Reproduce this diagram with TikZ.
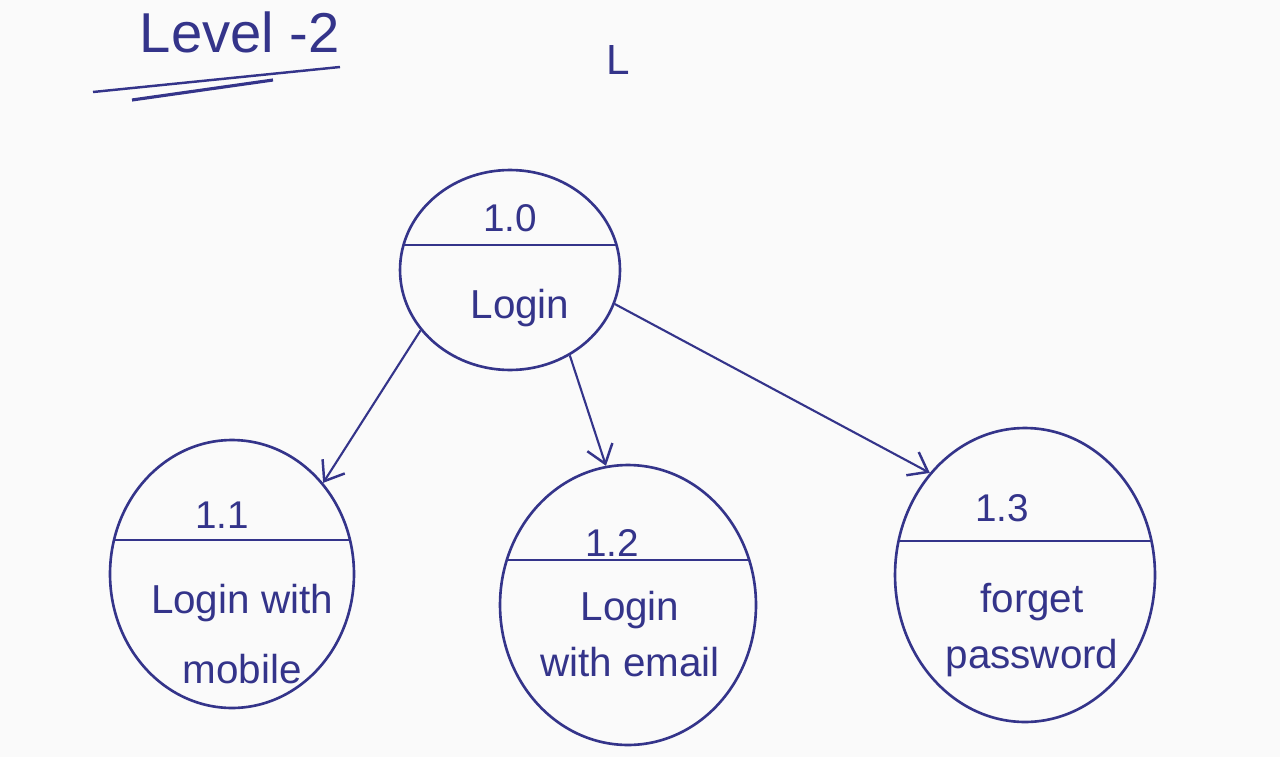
\documentclass[tikz,border=0pt]{standalone}
\usepackage{fontspec}
\setmainfont{Liberation Sans}
\usetikzlibrary{shapes.geometric,arrows.meta}
\definecolor{ink}{HTML}{34348A}
\definecolor{paper}{HTML}{FAFAFA}
\begin{document}
\begin{tikzpicture}[x=0.02cm,y=-0.02cm,
 proc/.style={ellipse,draw=ink,line width=1.5pt,inner sep=0pt},
 divider/.style={draw=ink,line width=1.5pt},
 lbl/.style={text=ink,font=\fontsize{23}{32}\selectfont,align=center,inner sep=0pt},
 num/.style={text=ink,font=\fontsize{22}{26}\selectfont,inner sep=0pt},
 flow/.style={draw=ink,line width=1.2pt,-{Straight Barb[length=10pt,width=15pt,line width=1.4pt]}}]
\fill[paper] (0,0) rectangle (1280,757);
\useasboundingbox (0,0) rectangle (1280,757);

% title
\node[text=ink,font=\fontsize{32}{36}\selectfont,inner sep=0pt] (title) at (240,32) {Level -2};
\draw[ink,line width=1.4pt] (93,92) -- (340,67);
\draw[ink,line width=1.8pt] (132,100) -- (273,80);
\node[text=ink,font=\fontsize{24}{28}\selectfont,inner sep=0pt] (mark) at (618,60) {L};

% processes
\node[proc,minimum width=4.4cm,minimum height=4cm] (p0) at (510,270) {};
\node[proc,minimum width=4.88cm,minimum height=5.36cm] (p1) at (232,574) {};
\node[proc,minimum width=5.12cm,minimum height=5.6cm] (p2) at (628,605) {};
\node[proc,minimum width=5.2cm,minimum height=5.88cm] (p3) at (1025,575) {};

% dividers
\begin{scope}
\clip (510,270) ellipse [x radius=110, y radius=100];
\draw[divider] (380,245) -- (640,245);
\end{scope}
\begin{scope}
\clip (232,574) ellipse [x radius=122, y radius=134];
\draw[divider] (90,540) -- (380,540);
\end{scope}
\begin{scope}
\clip (628,605) ellipse [x radius=128, y radius=140];
\draw[divider] (480,560) -- (780,560);
\end{scope}
\begin{scope}
\clip (1025,575) ellipse [x radius=130, y radius=147];
\draw[divider] (880,541) -- (1170,541);
\end{scope}

% labels
\node[num] (n0) at (510,218) {1.0};
\node[lbl] (t0) at (520,308) {Login};
\node[lbl,font=\fontsize{23}{40}\selectfont] (t1) at (242,634) {Login with\\mobile};
\node[num] (n1) at (222,515) {1.1};
\node[num] (n2) at (612,543) {1.2};
\node[lbl] (t2) at (630,634) {Login\\with email};
\node[num] (n3) at (1002,508) {1.3};
\node[lbl] (t3) at (1032,630) {forget\\password};

% flows
\draw[flow] (p0.214) -- (p1.45);
\draw[flow] (p0.305) -- (p2.99);
\draw[flow] (p0.342) -- (p3.133);
\end{tikzpicture}
\end{document}
